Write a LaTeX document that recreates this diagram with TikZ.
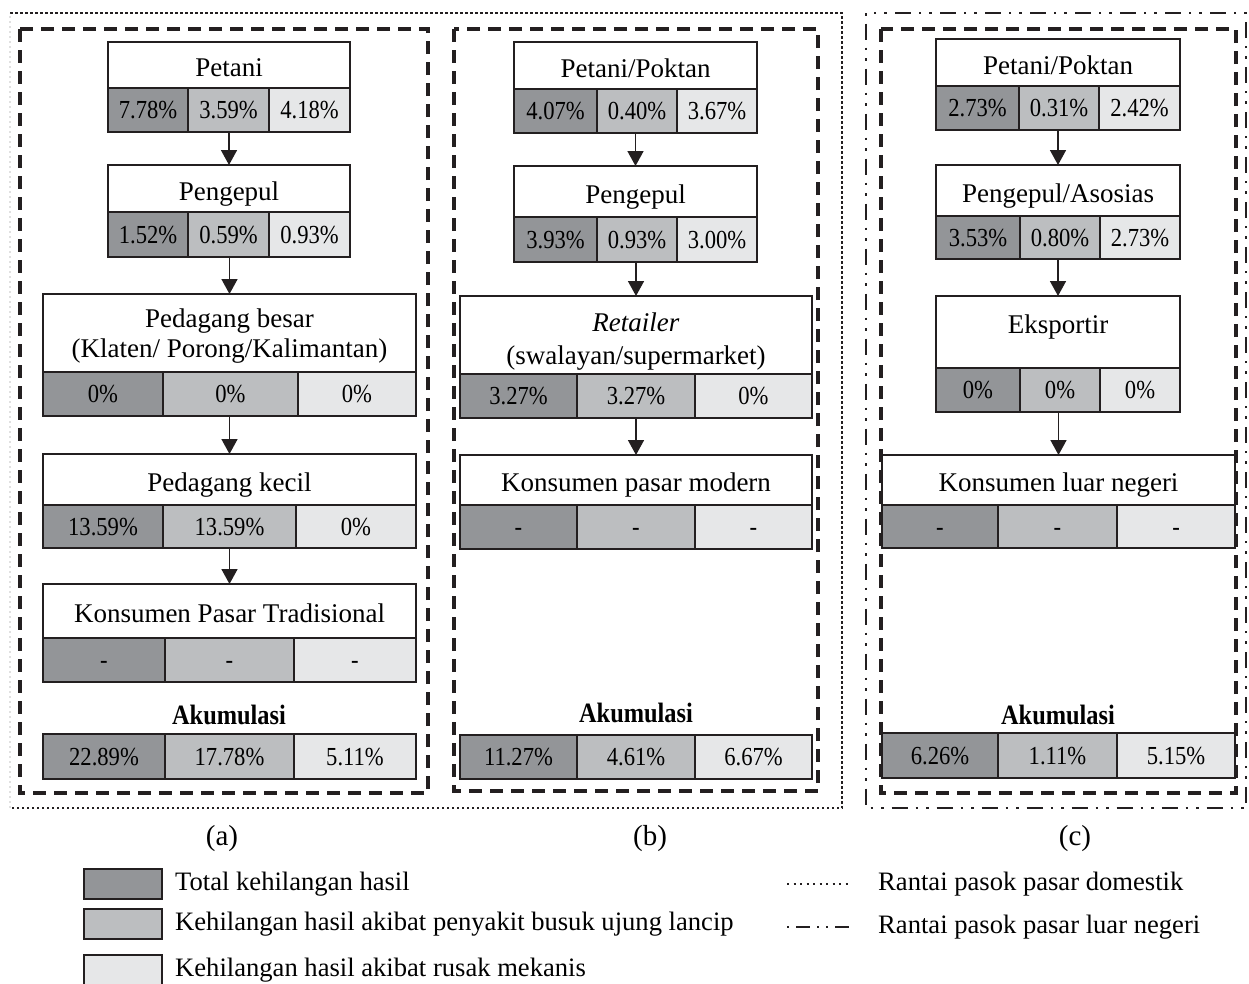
\documentclass[tikz,border=0pt]{standalone}
\usepackage{fontspec}
\setmainfont{Liberation Serif}
\newfontfamily\pctfont{Liberation Serif}[FakeStretch=0.87]
\usepackage{tikz}
\usetikzlibrary{arrows.meta, positioning}

\definecolor{linec}{HTML}{231F20}
\definecolor{lossdark}{HTML}{939598}
\definecolor{lossmid}{HTML}{BCBEC0}
\definecolor{losslight}{HTML}{E6E7E8}

% box from (x0,y0) to (x1,y1), y counted downwards
\newcommand{\cellnode}[7]{%
  \node[#1, minimum width=#5pt-#3pt, minimum height=#6pt-#4pt] (#2) at ({(#3+#5)/2},{(#4+#6)/2}) {#7};}

\tikzset{
  namebox/.style={draw=linec, fill=white, line width=1.5pt, inner sep=0pt, outer sep=0pt,
    align=center, font=\fontsize{27}{30}\selectfont, text depth=0pt},
  nameone/.style={namebox, text height=23pt},
  cell/.style={draw=linec, line width=1.5pt, inner sep=0pt, outer sep=0pt,
    font=\pctfont\fontsize{26}{30}\selectfont, text height=17pt, text depth=0pt},
  celltotal/.style={cell, fill=lossdark},
  celldisease/.style={cell, fill=lossmid},
  cellmech/.style={cell, fill=losslight},
  akum/.style={font=\pctfont\bfseries\fontsize{28}{30}\selectfont, inner sep=0pt},
  flow/.style={draw=linec, line width=1.6pt, -{Triangle[length=15pt,width=16pt]}},
  panelbox/.style={draw=linec, line width=3.2pt, dash pattern=on 13pt off 8pt},
  domline/.style={draw=linec, line width=2.8pt, dash pattern=on 2.5pt off 2.5pt},
  expline/.style={draw=linec, line width=2.8pt, dash pattern=on 2.5pt off 8pt on 16pt off 8pt on 2.5pt off 8pt},
  sublabel/.style={font=\fontsize{29}{30}\selectfont, inner sep=0pt},
  legtext/.style={font=\fontsize{26.6}{30}\selectfont, inner sep=0pt, anchor=west}
}

\begin{document}
\begin{tikzpicture}[x=1pt, y=-1pt]

	\useasboundingbox (0,0) rectangle (1249,983);

	% supply chain frames
	\draw[domline] (10,13) -- (842,13) -- (842,808) -- (10,808);
	\draw[domline, draw=black!12] (10,808) -- (10,13);
	\draw[expline] (866,13) rectangle (1246,808);
	\draw[panelbox] (20,29) rectangle (428,793);
	\draw[panelbox] (454,29) rectangle (818,791);
	\draw[panelbox] (881,29) rectangle (1236,793);

	% (a)
	\cellnode{nameone}{petA}{108}{42}{350}{88}{Petani}
	\cellnode{celltotal}{petA-1}{108}{88}{188}{132}{7.78\%}
	\cellnode{celldisease}{petA-2}{188}{88}{269}{132}{3.59\%}
	\cellnode{cellmech}{petA-3}{269}{88}{350}{132}{4.18\%}

	\cellnode{nameone}{pengA}{108}{165}{350}{212}{Pengepul}
	\cellnode{celltotal}{pengA-1}{108}{212}{188}{257}{1.52\%}
	\cellnode{celldisease}{pengA-2}{188}{212}{269}{257}{0.59\%}
	\cellnode{cellmech}{pengA-3}{269}{212}{350}{257}{0.93\%}

	\cellnode{namebox}{besarA}{43}{294}{416}{372}{Pedagang besar\\(Klaten/ Porong/Kalimantan)}
	\cellnode{celltotal}{besarA-1}{43}{372}{163}{416}{0\%}
	\cellnode{celldisease}{besarA-2}{163}{372}{298}{416}{0\%}
	\cellnode{cellmech}{besarA-3}{298}{372}{416}{416}{0\%}

	\cellnode{nameone}{kecilA}{43}{454}{416}{505}{Pedagang kecil}
	\cellnode{celltotal}{kecilA-1}{43}{505}{163}{548}{13.59\%}
	\cellnode{celldisease}{kecilA-2}{163}{505}{296}{548}{13.59\%}
	\cellnode{cellmech}{kecilA-3}{296}{505}{416}{548}{0\%}

	\cellnode{nameone}{konA}{43}{584}{416}{638}{Konsumen Pasar Tradisional}
	\cellnode{celltotal}{konA-1}{43}{638}{165}{682}{-}
	\cellnode{celldisease}{konA-2}{165}{638}{294}{682}{-}
	\cellnode{cellmech}{konA-3}{294}{638}{416}{682}{-}

	\node[akum] (akumA) at (229,715) {Akumulasi};
	\cellnode{celltotal}{sumA-1}{43}{734}{165}{779}{22.89\%}
	\cellnode{celldisease}{sumA-2}{165}{734}{294}{779}{17.78\%}
	\cellnode{cellmech}{sumA-3}{294}{734}{416}{779}{5.11\%}

	\draw[flow] (pengA.north |- petA-2.south) -- (pengA.north);
	\draw[flow] (besarA.north |- pengA-2.south) -- (besarA.north);
	\draw[flow] (kecilA.north |- besarA-2.south) -- (kecilA.north);
	\draw[flow] (konA.north |- kecilA-2.south) -- (konA.north);

	% (b)
	\cellnode{nameone}{petB}{514}{42}{757}{89}{Petani/Poktan}
	\cellnode{celltotal}{petB-1}{514}{89}{597}{133}{4.07\%}
	\cellnode{celldisease}{petB-2}{597}{89}{677}{133}{0.40\%}
	\cellnode{cellmech}{petB-3}{677}{89}{757}{133}{3.67\%}

	\cellnode{nameone}{pengB}{514}{166}{757}{217}{Pengepul}
	\cellnode{celltotal}{pengB-1}{514}{217}{597}{262}{3.93\%}
	\cellnode{celldisease}{pengB-2}{597}{217}{677}{262}{0.93\%}
	\cellnode{cellmech}{pengB-3}{677}{217}{757}{262}{3.00\%}

	\cellnode{namebox, text height=58pt}{retB}{460}{296}{812}{374}{\textit{Retailer}\\[3pt](swalayan/supermarket)}
	\cellnode{celltotal}{retB-1}{460}{374}{577}{418}{3.27\%}
	\cellnode{celldisease}{retB-2}{577}{374}{695}{418}{3.27\%}
	\cellnode{cellmech}{retB-3}{695}{374}{812}{418}{0\%}

	\cellnode{nameone}{konB}{460}{455}{812}{505}{Konsumen pasar modern}
	\cellnode{celltotal}{konB-1}{460}{505}{577}{549}{-}
	\cellnode{celldisease}{konB-2}{577}{505}{695}{549}{-}
	\cellnode{cellmech}{konB-3}{695}{505}{812}{549}{-}

	\node[akum] (akumB) at (636,713) {Akumulasi};
	\cellnode{celltotal}{sumB-1}{460}{735}{577}{779}{11.27\%}
	\cellnode{celldisease}{sumB-2}{577}{735}{695}{779}{4.61\%}
	\cellnode{cellmech}{sumB-3}{695}{735}{812}{779}{6.67\%}

	\draw[flow] (pengB.north |- petB-2.south) -- (pengB.north);
	\draw[flow] (retB.north |- pengB-2.south) -- (retB.north);
	\draw[flow] (konB.north |- retB-2.south) -- (konB.north);

	% (c)
	\cellnode{nameone}{petC}{936}{39}{1180}{86}{Petani/Poktan}
	\cellnode{celltotal}{petC-1}{936}{86}{1019}{130}{2.73\%}
	\cellnode{celldisease}{petC-2}{1019}{86}{1099}{130}{0.31\%}
	\cellnode{cellmech}{petC-3}{1099}{86}{1180}{130}{2.42\%}

	\cellnode{nameone}{pengC}{936}{165}{1180}{216}{Pengepul/Asosias}
	\cellnode{celltotal}{pengC-1}{936}{216}{1020}{259}{3.53\%}
	\cellnode{celldisease}{pengC-2}{1020}{216}{1100}{259}{0.80\%}
	\cellnode{cellmech}{pengC-3}{1100}{216}{1180}{259}{2.73\%}

	\cellnode{namebox, text height=19pt, text depth=16pt}{eksC}{936}{296}{1180}{368}{Eksportir}
	\cellnode{celltotal}{eksC-1}{936}{368}{1020}{412}{0\%}
	\cellnode{celldisease}{eksC-2}{1020}{368}{1100}{412}{0\%}
	\cellnode{cellmech}{eksC-3}{1100}{368}{1180}{412}{0\%}

	\cellnode{nameone}{konC}{882}{455}{1235}{505}{Konsumen luar negeri}
	\cellnode{celltotal}{konC-1}{882}{505}{998}{548}{-}
	\cellnode{celldisease}{konC-2}{998}{505}{1117}{548}{-}
	\cellnode{cellmech}{konC-3}{1117}{505}{1235}{548}{-}

	\node[akum] (akumC) at (1058,715) {Akumulasi};
	\cellnode{celltotal}{sumC-1}{882}{733}{998}{778}{6.26\%}
	\cellnode{celldisease}{sumC-2}{998}{733}{1117}{778}{1.11\%}
	\cellnode{cellmech}{sumC-3}{1117}{733}{1235}{778}{5.15\%}

	\draw[flow] (pengC.north |- petC-2.south) -- (pengC.north);
	\draw[flow] (eksC.north |- pengC-2.south) -- (eksC.north);
	\draw[flow] (konC.north |- eksC-2.south) -- (konC.north);

	\node[sublabel] (labA) at (222,839) {(a)};
	\node[sublabel] (labB) at (650,839) {(b)};
	\node[sublabel] (labC) at (1075,839) {(c)};

	% legend
	\cellnode{celltotal}{legTotal}{84}{869}{162}{899}{}
	\cellnode{celldisease}{legDisease}{84}{909}{162}{939}{}
	\cellnode{cellmech}{legMech}{84}{955}{162}{990}{}
	\node[legtext, right=13pt of legTotal] (txtTotal) {Total kehilangan hasil};
	\node[legtext, right=13pt of legDisease] (txtDisease) {Kehilangan hasil akibat penyakit busuk ujung lancip};
	\node[legtext] (txtMech) at (175,970) {Kehilangan hasil akibat rusak mekanis};

	\coordinate (domL) at (787,884);
	\coordinate (domR) at (850,884);
	\coordinate (expL) at (787,927);
	\coordinate (expR) at (850,927);
	\draw[draw=linec, line width=2.2pt, dash pattern=on 2pt off 4.5pt] (domL) -- (domR);
	\draw[draw=linec, line width=2.2pt, dash pattern=on 2pt off 7pt on 14pt off 7pt on 2pt off 7pt] (expL) -- (expR);
	\node[legtext, right=28pt of domR] (txtDom) {Rantai pasok pasar domestik};
	\node[legtext, right=28pt of expR] (txtExp) {Rantai pasok pasar luar negeri};

\end{tikzpicture}
\end{document}
